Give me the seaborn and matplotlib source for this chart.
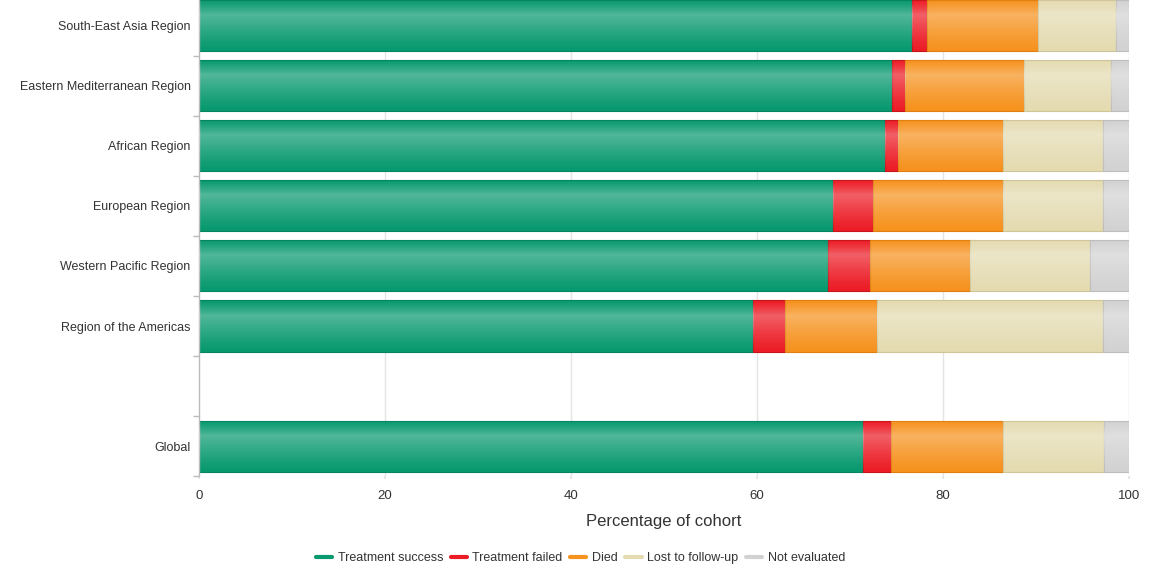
import numpy as np
import pandas as pd
import matplotlib
matplotlib.use("Agg")
import matplotlib.pyplot as plt
from matplotlib.lines import Line2D
import seaborn as sns

# Treatment outcomes by WHO region (percentage of cohort)
regions = ["South-East Asia Region", "Eastern Mediterranean Region", "African Region",
           "European Region", "Western Pacific Region", "Region of the Americas", " ", "Global"]
outcomes = ["Treatment success", "Treatment failed", "Died", "Lost to follow-up", "Not evaluated"]

treatment_success = [76.7, 74.5, 73.8, 68.2, 67.6, 59.6, 71.4]
treatment_failed = [1.6, 1.4, 1.4, 4.3, 4.5, 3.4, 3.0]
died = [11.9, 12.8, 11.3, 14.0, 10.8, 9.9, 12.0]
lost_to_follow_up = [8.4, 9.4, 10.7, 10.7, 12.9, 24.3, 10.9]
not_evaluated = [1.4, 1.9, 2.8, 2.8, 4.2, 2.8, 2.7]

series = [treatment_success, treatment_failed, died, lost_to_follow_up, not_evaluated]
colors = ["#08996F", "#EC1C26", "#F6921E", "#E4DBB1", "#D2D2D2"]
edges = ["#058462", "#C8141C", "#E07F10", "#CFC597", "#BDBDBD"]

data_regions = [r for r in regions if r.strip()]
df = pd.DataFrame({"region": data_regions})
for name, vals in zip(outcomes, series):
    df[name] = vals

sns.set_theme(style="white")
plt.rcParams["font.family"] = ["Liberation Sans", "DejaVu Sans"]
text_color = "#333333"

fig = plt.figure(figsize=(11.7, 5.69), dpi=100)
ax = fig.add_axes([0.1701, 0.16344, 0.7949, 0.8436])

# light vertical grid behind the bars
for gx in [20, 40, 60, 80, 100]:
    ax.axvline(gx, color="#e4e4e4", lw=1.0, zorder=0)

left = np.zeros(len(df))
for i, (name, col, ec) in enumerate(zip(outcomes, colors, edges)):
    n_before = len(ax.patches)
    sns.barplot(data=df, y="region", x=name, order=regions, orient="h",
                color=col, width=0.85, saturation=1, edgecolor=ec, linewidth=0.8,
                ax=ax, zorder=2)
    new = ax.patches[n_before:]
    for p, lft in zip(new, left):
        p.set_x(lft)
        p.set_zorder(2)
    left = left + df[name].to_numpy()

# soft vertical shading on each bar segment
t = np.linspace(0, 1, 64)
prof = np.where(t < 0.3, t / 0.3, (1 - t) / 0.7)
prof = np.clip(prof, 0, 1) ** 1.2 * 0.30
grad = np.ones((64, 2, 4))
grad[:, :, 3] = prof[:, None]
for p in list(ax.patches):
    x0, y0, w, h = p.get_x(), p.get_y(), p.get_width(), p.get_height()
    if w <= 0:
        continue
    im = ax.imshow(grad, extent=(x0, x0 + w, y0 + h, y0), origin="upper",
                   aspect="auto", interpolation="bilinear", zorder=3)
    im.set_clip_path(p)

ax.set_xlim(0, 100)
ax.set_ylim(len(regions) - 0.5, -0.5)

ax.set_xticks([0, 20, 40, 60, 80, 100])
ax.set_xticklabels(["0", "20", "40", "60", "80", "100"])
ax.tick_params(axis="x", bottom=True, length=2, color="#e4e4e4", labelsize=9.5,
               labelcolor=text_color, pad=8)
ax.tick_params(axis="y", which="major", length=0, labelsize=9, labelcolor=text_color, pad=6)
ax.set_yticks(np.arange(len(regions)) + 0.5, minor=True)
ax.tick_params(axis="y", which="minor", left=True, length=4, color="#bbbbbb", width=1)

ax.set_xlabel("Percentage of cohort", fontsize=12, color=text_color, labelpad=9)
ax.set_ylabel("")

for side in ["top", "right", "bottom"]:
    ax.spines[side].set_visible(False)
ax.spines["left"].set_color("#bbbbbb")
ax.spines["left"].set_linewidth(1)

handles = [Line2D([0], [0], color=c, lw=3.0) for c in colors]
fig.legend(handles, outcomes, loc="center", bbox_to_anchor=(0.496, 0.019), ncol=5,
           frameon=False, fontsize=9, handlelength=1.3, handletextpad=0.45,
           columnspacing=0.6, labelcolor=text_color)

fig.savefig("out.png", dpi=100)
